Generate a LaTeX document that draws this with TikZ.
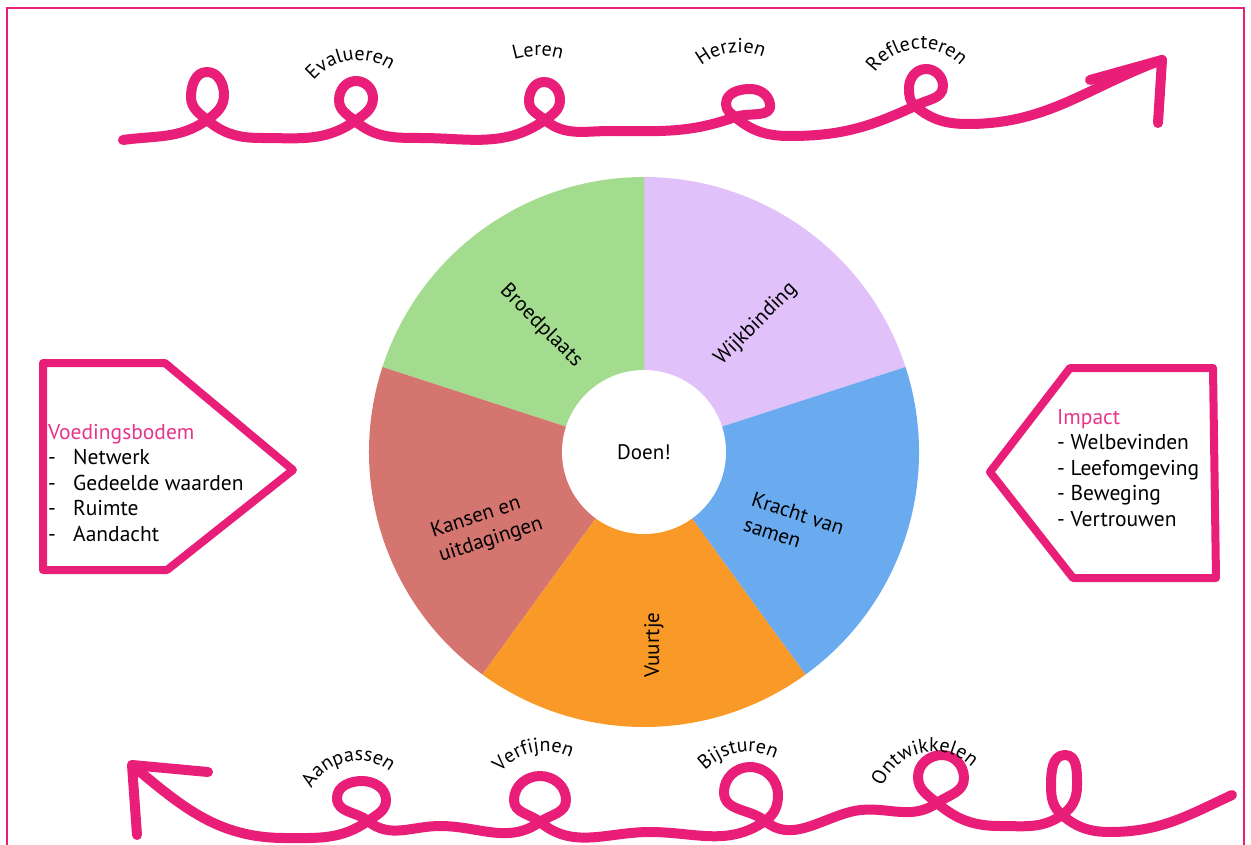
\documentclass[tikz,border=0pt]{standalone}
\usepackage{fontspec}
\setmainfont{PT Sans}
\usetikzlibrary{decorations.text}
\definecolor{roze}{HTML}{E91E79}
\definecolor{titelroze}{HTML}{E6358A}
\definecolor{broedgroen}{HTML}{A3DC8F}
\definecolor{wijkpaars}{HTML}{E0C1F9}
\definecolor{krachtblauw}{HTML}{69ABEE}
\definecolor{vuuroranje}{HTML}{F99A28}
\definecolor{kansenrood}{HTML}{D47570}
\newcommand{\arcfont}{\fontsize{20}{22}\selectfont}
\newcommand{\boxfont}{\fontsize{21.5}{25.5}\selectfont}
\newcommand{\piefont}{\fontsize{21}{26}\selectfont}
% #1 baseline centre, #2 tilt, #3 radius, #4 text
\newcommand{\arclabel}[4]{%
  \path (#1) ++(#2-90:#3) coordinate (o);
  \path (o) ++(#2+160:#3) coordinate (s);
  \path[decorate, decoration={text along path, text align=center,
    text={|\arcfont|#4}}] (s) arc[start angle=#2+160, end angle=#2+20, radius=#3pt];
}
\begin{document}
\begin{tikzpicture}[x=1pt,y=1pt,
  lus/.style={roze, line width=10pt, line cap=round, line join=round},
  vak/.style={roze, line width=8pt, line join=round},
  frame/.style={roze, line width=2.5pt}]
\tikzstyle{every node}+=[inner sep=0pt]
\useasboundingbox (0,0) rectangle (1251,-845);
\draw[frame] (7,-8) rectangle (1244,-870);

% top loop line
\draw[lus] (123,-140)
  to[out=8,in=215] (207,-120) to[out=35,in=-90] (224,-95)
  to[out=90,in=0] (207,-72) to[out=180,in=90] (191,-97)
  to[out=-90,in=140] (207,-120) to[out=-40,in=180] (262,-138)
  to[out=0,in=215] (355,-121) to[out=35,in=-90] (373,-98)
  to[out=90,in=0] (356,-81) to[out=180,in=90] (339,-100)
  to[out=-90,in=140] (355,-121) to[out=-40,in=180] (420,-138)
  to[out=0,in=215] (545,-120) to[out=35,in=-90] (560,-100)
  to[out=90,in=0] (544,-82) to[out=180,in=90] (529,-101)
  to[out=-90,in=140] (545,-120) to[out=-40,in=180] (610,-131)
  to[out=0,in=200] (735,-117) to[out=20,in=-80] (770,-104)
  to[out=100,in=0] (750,-89) to[out=180,in=90] (726,-104)
  to[out=-90,in=140] (735,-117) to[out=-40,in=180] (790,-136)
  to[out=0,in=205] (915,-106) to[out=30,in=-90] (943,-86)
  to[out=90,in=0] (926,-69) to[out=180,in=90] (909,-88)
  to[out=-90,in=140] (915,-106) to[out=-40,in=180] (968,-124)
  to[out=0,in=200] (1162,-60);
\draw[lus] (1090,-80) -- (1162,-60) -- (1158,-123);

% bottom loop line
\draw[lus] (132,-765)
  to[out=-40,in=180] (285,-838) to[out=0,in=215] (368,-821)
  to[out=35,in=-90] (386,-800) to[out=90,in=0] (362,-781)
  to[out=180,in=90] (337,-798) to[out=-90,in=140] (368,-821)
  to[out=-40,in=180] (440,-826) to[out=0,in=215] (540,-822)
  to[out=35,in=-90] (566,-800) to[out=90,in=0] (540,-776)
  to[out=180,in=90] (514,-800) to[out=-90,in=140] (540,-822)
  to[out=-40,in=180] (650,-832) to[out=0,in=215] (765,-821)
  to[out=35,in=-90] (778,-795) to[out=90,in=0] (750,-767)
  to[out=180,in=90] (724,-792) to[out=-90,in=140] (765,-821)
  to[out=-40,in=195] (850,-812) to[out=15,in=215] (937,-803)
  to[out=35,in=-90] (964,-778) to[out=90,in=0] (942,-755)
  to[out=180,in=90] (918,-777) to[out=-90,in=140] (937,-803)
  to[out=-40,in=180] (1000,-826) to[out=0,in=215] (1062,-815)
  to[out=35,in=-90] (1077,-786) to[out=90,in=0] (1065,-755)
  to[out=180,in=90] (1051,-786) to[out=-90,in=140] (1062,-815)
  to[out=-40,in=180] (1110,-832) to[out=0,in=205] (1232,-795);
\draw[lus] (208,-772) -- (132,-765) -- (137,-835);

% labels on the loops
\arclabel{350,-61}{8}{58}{Evalueren}
\arclabel{538,-56}{0}{80}{Leren}
\arclabel{731,-53}{8}{60}{Herzien}
\arclabel{916,-49}{5}{55}{Reflecteren}
\arclabel{347,-762}{12}{52}{Aanpassen}
\arclabel{533,-753}{12}{58}{Verfijnen}
\arclabel{738,-753}{10}{60}{Bijsturen}
\arclabel{922,-753}{12}{55}{Ontwikkelen}

% wheel
\coordinate (c) at (644,-452);
\fill[wijkpaars] (c) -- ++(18:275) arc[start angle=18, end angle=90, radius=275pt] -- cycle;
\fill[broedgroen] (c) -- ++(90:275) arc[start angle=90, end angle=162, radius=275pt] -- cycle;
\fill[kansenrood] (c) -- ++(162:275) arc[start angle=162, end angle=234, radius=275pt] -- cycle;
\fill[vuuroranje] (c) -- ++(234:275) arc[start angle=234, end angle=306, radius=275pt] -- cycle;
\fill[krachtblauw] (c) -- ++(306:275) arc[start angle=306, end angle=378, radius=275pt] -- cycle;
\node[circle, fill=white, minimum size=164pt, font=\piefont] (doen) at (c) {Doen!};
\node[rotate=-45, font=\piefont] (broedplaats) at (541,-326) {Broedplaats};
\node[rotate=45, font=\piefont] (wijkbinding) at (756,-324) {Wijkbinding};
\node[rotate=-18, align=left, font=\piefont] (kracht) at (794,-526) {Kracht van\\samen};
\node[rotate=18, align=left, font=\piefont] (kansen) at (487,-528) {Kansen en\\uitdagingen};
\node[rotate=90, font=\piefont] (vuurtje) at (654,-645) {Vuurtje};

% side boxes
\draw[vak] (43,-363) -- (165,-363) -- (293,-470) -- (167,-570) -- (43,-570) -- cycle;
\node[anchor=west, align=left, font=\boxfont] (voeding) at (48,-483)
  {\textcolor{titelroze}{Voedingsbodem}\\\makebox[25pt][l]{-}Netwerk\\\makebox[25pt][l]{-}Gedeelde waarden\\\makebox[25pt][l]{-}Ruimte\\\makebox[25pt][l]{-}Aandacht};
\draw[vak] (1070,-368) -- (1213,-368) -- (1216,-578) -- (1073,-578) -- (990,-472) -- cycle;
\node[anchor=west, align=left, font=\boxfont] (impact) at (1057,-468)
  {\textcolor{titelroze}{Impact}\\- Welbevinden\\- Leefomgeving\\- Beweging\\- Vertrouwen};
\end{tikzpicture}
\end{document}
